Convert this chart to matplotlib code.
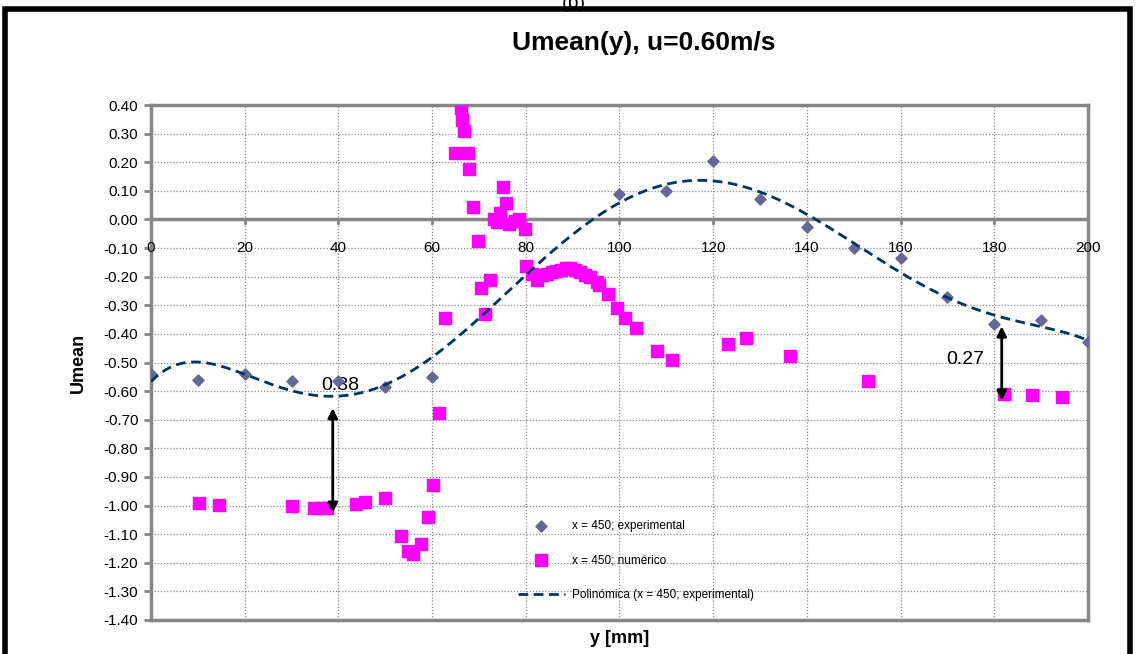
import matplotlib
matplotlib.use('Agg')
import matplotlib.pyplot as plt
from matplotlib.patches import Rectangle
import numpy as np

plt.rcParams['font.family'] = ['Liberation Sans Narrow', 'Liberation Sans', 'DejaVu Sans']

# experimental data (diamonds)
y_exp = [0, 10, 20, 30, 40, 50, 60, 100, 110, 120, 130, 140, 150, 160, 170, 180, 190, 200]
u_exp = [-0.54, -0.56, -0.54, -0.565, -0.563, -0.587, -0.549, 0.09, 0.098, 0.203, 0.07, -0.028,
         -0.10, -0.136, -0.27, -0.367, -0.35, -0.43]

# numerical data (squares)
y_num = [10.3, 14.5, 30.1, 34.8, 36.2, 37.5, 43.7, 45.7, 49.9, 53.4, 54.8, 56.0, 57.6, 59.1,
         60.2, 61.4, 62.8, 64.9, 66.2, 66.4, 66.8, 67.7, 67.9, 68.7, 69.8, 70.4, 71.3, 72.4,
         73.2, 73.8, 74.5, 75.1, 75.8, 76.4, 77.7, 78.5, 79.8, 80.0, 81.4, 82.3, 83.5, 84.5,
         85.5, 86.5, 87.5, 88.5, 89.5, 90.5, 91.5, 92.6, 93.8, 95.1, 95.6, 97.6, 99.5, 101.2,
         103.5, 108.0, 111.2, 123.2, 127.0, 136.4, 153.0, 182.1, 188.0, 194.4]
u_num = [-0.99, -0.997, -1.0, -1.007, -1.007, -1.007, -0.993, -0.986, -0.972, -1.105, -1.16,
         -1.168, -1.133, -1.04, -0.927, -0.675, -0.346, 0.234, 0.39, 0.346, 0.308, 0.234, 0.178,
         0.042, -0.077, -0.24, -0.33, -0.213, 0.0, -0.01, 0.024, 0.112, 0.056, -0.017, -0.007,
         0.003, -0.035, -0.164, -0.19, -0.213, -0.195, -0.19, -0.185, -0.18, -0.175, -0.17,
         -0.17, -0.175, -0.185, -0.193, -0.2, -0.22, -0.23, -0.26, -0.31, -0.343, -0.38, -0.46,
         -0.49, -0.434, -0.416, -0.476, -0.566, -0.61, -0.612, -0.619]

# polynomial trendline of the experimental series (order 6, like Excel)
coef = np.polyfit(np.array(y_exp) / 100.0, u_exp, 6)
y_fit = np.linspace(0, 200, 400)
u_fit = np.polyval(coef, y_fit / 100.0)

fig = plt.figure(figsize=(11.36, 6.54), dpi=100)
ax = fig.add_axes([0.1329, 0.052, 0.8248, 0.7874])

grey = '#868686'
ax.scatter(y_exp, u_exp, marker='D', s=32, color='#666699', zorder=4,
           label='x = 450; experimental')
ax.scatter(y_num, u_num, marker='s', s=72, color='#FF00FF', zorder=3,
           label='x = 450; numérico')
ax.plot(y_fit, u_fit, color='#003366', linestyle=(0, (3.5, 2)), linewidth=2, zorder=5,
        label='Polinómica (x = 450; experimental)')

ax.set_xlim(0, 200)
ax.set_ylim(-1.40, 0.40)
yt = np.round(np.arange(-1.40, 0.41, 0.10), 2)
ax.set_yticks(yt)
ax.set_yticklabels(['%.2f' % v for v in yt], fontsize=11)
ax.set_xticks(range(0, 201, 20))
ax.set_xticklabels([])
ax.tick_params(axis='x', length=0)
ax.tick_params(axis='y', direction='out', length=5, width=2, color=grey, pad=4)
ax.grid(True, color='#8c8c8c', linestyle=(0, (1, 1.5)), linewidth=0.9)
for s in ax.spines.values():
    s.set_color(grey)
    s.set_linewidth(2.5)
ax.axhline(0, color=grey, linewidth=2.5, zorder=2)
for xv in range(0, 201, 20):
    ax.plot([xv, xv], [0, -0.012], color=grey, linewidth=2, zorder=2)
    ax.text(xv, -0.10, str(xv), ha='center', va='center', fontsize=11, zorder=6)

ax.set_ylabel('Umean', fontsize=13, fontweight='bold', labelpad=12)
ax.set_xlabel('y [mm]', fontsize=13, fontweight='bold', labelpad=4)
fig.text(0.567, 0.935, 'Umean(y), u=0.60m/s', ha='center', va='center',
         fontsize=19, fontweight='bold')
fig.text(0.505, 0.995, '(b)', ha='center', va='center', fontsize=14)

# difference annotations
ax.annotate('', xy=(38.8, -0.65), xytext=(38.8, -1.035),
            arrowprops=dict(arrowstyle='<|-|>', color='black', lw=2, mutation_scale=14))
ax.text(40.5, -0.58, '0.38', ha='center', va='center', fontsize=14)
ax.annotate('', xy=(181.6, -0.364), xytext=(181.6, -0.643),
            arrowprops=dict(arrowstyle='<|-|>', color='black', lw=2, mutation_scale=14))
ax.text(173.8, -0.49, '0.27', ha='center', va='center', fontsize=14)

ax.legend(loc='upper left', bbox_to_anchor=(0.38, 0.215), frameon=False, fontsize=8.5,
          labelspacing=1.9, handlelength=4, handletextpad=0.6)

fig.patches.append(Rectangle((0.004, -0.05), 0.991, 1.037, transform=fig.transFigure,
                             fill=False, edgecolor='black', linewidth=4))

fig.savefig('out.png', dpi=100)
